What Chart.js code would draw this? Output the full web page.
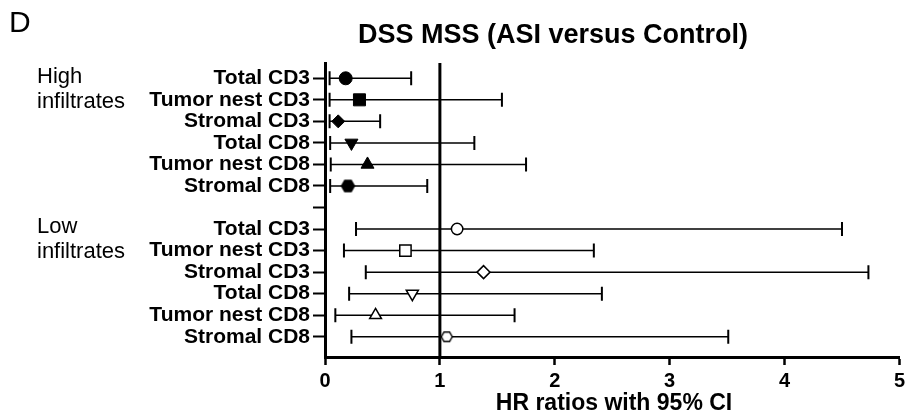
<!DOCTYPE html>
<html>
<head>
<meta charset="utf-8">
<script src="https://cdn.jsdelivr.net/npm/chart.js@4/dist/chart.umd.min.js"></script>
<style>
  html, body { margin:0; padding:0; background:#fff; }
  #forest { display:block; }
</style>
</head>
<body>
<canvas id="forest" width="909" height="414"></canvas>
<script>
// forest plot, HR with 95% CI
const rowNames = ['Total CD3','Tumor nest CD3','Stromal CD3','Total CD8','Tumor nest CD8','Stromal CD8'];
const highHR = [0.18, 0.30, 0.115, 0.23, 0.37, 0.20];
const highLo = [0.04, 0.04, 0.04, 0.045, 0.05, 0.045];
const highHi = [0.75, 1.54, 0.48, 1.30, 1.75, 0.89];
const lowHR  = [1.15, 0.70, 1.38, 0.76, 0.44, 1.06];
const lowLo  = [0.27, 0.165, 0.355, 0.21, 0.09, 0.23];
const lowHi  = [4.50, 2.34, 4.73, 2.41, 1.65, 3.51];
const xTicks = [0, 1, 2, 3, 4, 5];
const refHR = 1;

const yLabels = [...rowNames, '', ...rowNames];
const FONT = "'Liberation Sans', Arial, Helvetica, sans-serif";
Chart.defaults.font.family = FONT;
Chart.defaults.color = '#000';

function hexImg(r, filled){
  const c = document.createElement('canvas');
  const s = Math.ceil(r*2 + 4);
  c.width = s; c.height = s;
  const g = c.getContext('2d');
  g.beginPath();
  for (let k = 0; k < 6; k++) {
    const a = k * Math.PI / 3;
    const px = s/2 + r*Math.cos(a), py = s/2 + r*Math.sin(a);
    k ? g.lineTo(px, py) : g.moveTo(px, py);
  }
  g.closePath();
  g.fillStyle = filled ? '#000' : '#fff';
  g.fill();
  g.lineWidth = 1.4; g.strokeStyle = '#000';
  g.stroke();
  return c;
}

const highStyles = ['circle','rect','rectRot','triangle','triangle', hexImg(6.5, true)];
const lowStyles  = ['circle','rect','rectRot','triangle','triangle', hexImg(5.5, false)];
const rotations  = [0, 0, 0, 180, 0, 0];

const highPts = highHR.map((v,i) => ({ x:v, y:i, lo:highLo[i], hi:highHi[i] }));
const lowPts  = lowHR.map((v,i) => ({ x:v, y:i+7, lo:lowLo[i], hi:lowHi[i] }));

const forestBits = {
  id: 'forestBits',
  beforeDatasetsDraw(chart){
    const { ctx, chartArea:a, scales:{ x, y } } = chart;
    ctx.save();
    ctx.strokeStyle = '#000';
    // line of no effect
    const rx = x.getPixelForValue(refHR);
    ctx.lineWidth = 3;
    ctx.beginPath(); ctx.moveTo(rx, a.top); ctx.lineTo(rx, a.bottom); ctx.stroke();
    // whiskers
    chart.data.datasets.forEach(ds => {
      ds.data.forEach(p => {
        const py = y.getPixelForValue(p.y);
        const x1 = x.getPixelForValue(p.lo), x2 = x.getPixelForValue(p.hi);
        ctx.lineWidth = 1.5;
        ctx.beginPath(); ctx.moveTo(x1, py); ctx.lineTo(x2, py); ctx.stroke();
        ctx.lineWidth = 2;
        ctx.beginPath();
        ctx.moveTo(x1, py-7); ctx.lineTo(x1, py+7);
        ctx.moveTo(x2, py-7); ctx.lineTo(x2, py+7);
        ctx.stroke();
      });
    });
    ctx.restore();
  },
  afterDraw(chart){
    const { ctx } = chart;
    ctx.save();
    ctx.fillStyle = '#000';
    ctx.textBaseline = 'middle';
    ctx.textAlign = 'left';
    ctx.font = `30px ${FONT}`;
    ctx.fillText('D', 9, 24);
    ctx.font = `22px ${FONT}`;
    ctx.fillText('High', 37, 77);
    ctx.fillText('infiltrates', 37, 102);
    ctx.fillText('Low', 37, 227);
    ctx.fillText('infiltrates', 37, 252);
    ctx.textAlign = 'center';
    ctx.font = `bold 27px ${FONT}`;
    ctx.fillText('DSS MSS (ASI versus Control)', 553, 36);
    ctx.font = `bold 23px ${FONT}`;
    ctx.fillText('HR ratios with 95% CI', 614, 404);
    ctx.restore();
  }
};

new Chart(document.getElementById('forest'), {
  type: 'scatter',
  data: {
    datasets: [
      {
        label: 'High infiltrates',
        data: highPts,
        pointStyle: highStyles,
        pointRotation: rotations,
        pointRadius: [6.5, 8.5, 6.5, 7.5, 7.5, 6.5],
        pointBackgroundColor: '#000',
        pointBorderColor: '#000',
        pointBorderWidth: 1
      },
      {
        label: 'Low infiltrates',
        data: lowPts,
        pointStyle: lowStyles,
        pointRotation: rotations,
        pointRadius: [5.7, 8, 6.5, 7, 6.8, 5.5],
        pointBackgroundColor: '#fff',
        pointBorderColor: '#000',
        pointBorderWidth: 1.5
      }
    ]
  },
  options: {
    responsive: false,
    animation: false,
    events: [],
    layout: { padding: { top: 63, right: 6, left: 0, bottom: 0 } },
    plugins: { legend: { display:false }, tooltip: { enabled:false } },
    scales: {
      x: {
        type: 'linear', min: 0, max: 5,
        afterBuildTicks: s => { s.ticks = xTicks.map(v => ({ value:v })); },
        afterFit: s => { s.height = 57; },
        border: { display:true, color:'#000', width:3 },
        grid: { display:true, drawOnChartArea:false, drawTicks:true, tickLength:8, tickWidth:2.5, tickColor:'#000', color:'#000' },
        ticks: { color:'#000', font:{ size:20, weight:'bold' }, padding:4, maxRotation:0 }
      },
      y: {
        type: 'linear', reverse: true, min: -0.71, max: 12.94,
        afterBuildTicks: s => { s.ticks = yLabels.map((_,i) => ({ value:i })); },
        afterFit: s => { s.width = 325; },
        border: { display:true, color:'#000', width:3 },
        grid: { display:true, drawOnChartArea:false, drawTicks:true, tickLength:12, tickWidth:2, tickColor:'#000', color:'#000' },
        ticks: { color:'#000', font:{ size:21, weight:'bold' }, padding:3, autoSkip:false,
                 callback: v => yLabels[v] }
      }
    }
  },
  plugins: [forestBits]
});
</script>
</body>
</html>
